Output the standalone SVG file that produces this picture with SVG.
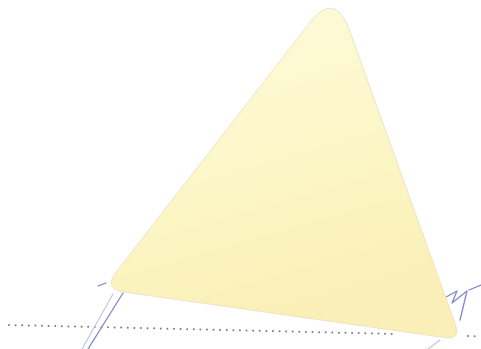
<svg xmlns="http://www.w3.org/2000/svg" width="481" height="349" viewBox="0 0 481 349">
<defs>
<linearGradient id="paper" x1="0" y1="0" x2="0.3" y2="1">
<stop offset="0" stop-color="#fdfbdc"/>
<stop offset="0.6" stop-color="#fcf6c6"/>
<stop offset="1" stop-color="#faefb6"/>
</linearGradient>
</defs>
<style>
.dots{fill:none;stroke:#767a84;stroke-width:2;stroke-dasharray:0 6.6;stroke-linecap:round}
.pen{fill:none;stroke:#8486cc;stroke-width:1.3;stroke-linecap:round;stroke-linejoin:round}
.penlight{fill:none;stroke:#bfc1e4;stroke-width:1.1;stroke-linecap:round}
</style>
<rect width="481" height="349" fill="#ffffff"/>
<g id="dotted-line">
<line class="dots" x1="9" y1="325" x2="397" y2="334"/>
<line class="dots" x1="468" y1="336" x2="481" y2="336.3"/>
</g>
<g id="pen-marks">
<line class="penlight" x1="113" y1="294" x2="82" y2="349"/>
<line class="pen" x1="123" y1="293" x2="88" y2="349"/>
<line class="pen" x1="98" y1="286" x2="106" y2="283" stroke-width="1.8"/>
<polyline class="pen" points="446,297 457,291 452,303 467,291 460,320"/>
<line class="pen" x1="469" y1="290" x2="481" y2="285"/>
<line class="penlight" x1="440" y1="340" x2="428" y2="349"/>
</g>
<g id="triangle">
<path d="M 309.3,23.2 Q 335,-10 349.2,29.5 L 455.6,324.9 Q 461,340 445.2,337.7 L 124.8,292.1 Q 103,289 116.5,271.6 Z" fill="url(#paper)" stroke="#ecdcc0" stroke-width="0.8"/>
</g>
</svg>
